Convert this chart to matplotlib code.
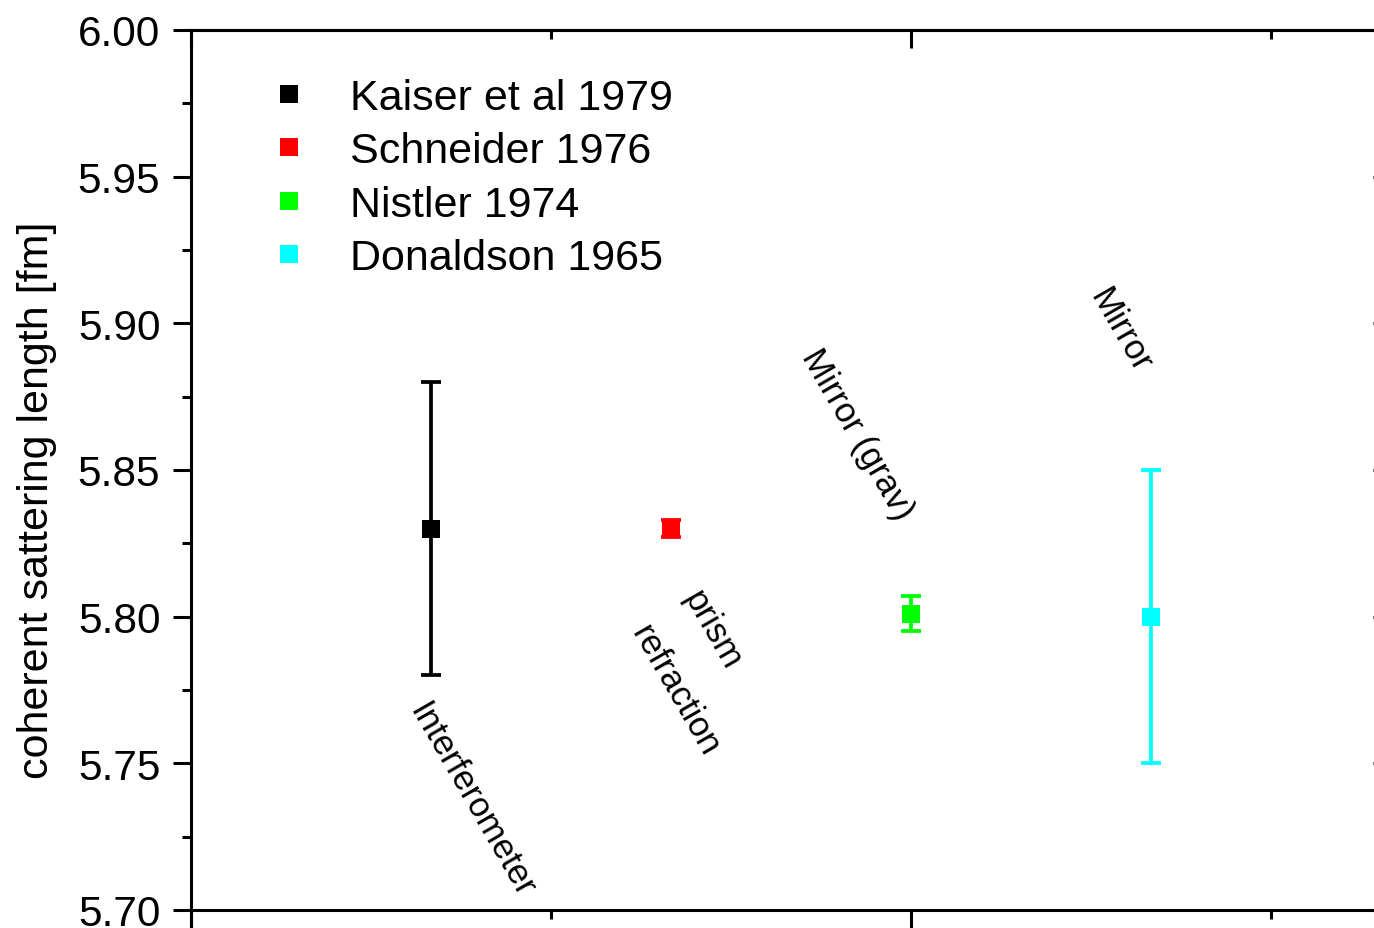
import matplotlib
matplotlib.use("Agg")
import matplotlib.pyplot as plt
from matplotlib.ticker import MultipleLocator, FormatStrFormatter
from matplotlib.lines import Line2D

plt.rcParams['font.family'] = ['Liberation Sans', 'DejaVu Sans']

# Measurements of the coherent scattering length
labels = ["Kaiser et al 1979", "Schneider 1976", "Nistler 1974", "Donaldson 1965"]
positions = [1, 2, 3, 4]
values = [5.830, 5.830, 5.801, 5.800]
errors = [0.050, 0.003, 0.006, 0.050]
colors = ["#000000", "#ff0000", "#00ff00", "#00ffff"]

# Method annotations: (text, x, y)
methods = [
    ("Interferometer", 1.171, 5.7375),
    ("prism", 2.171, 5.7955),
    ("refraction", 2.017, 5.775),
    ("Mirror (grav)", 2.775, 5.8625),
    ("Mirror", 3.872, 5.8977),
]

W, H = 1374, 929
fig = plt.figure(figsize=(W / 100, H / 100), dpi=100)
ax = fig.add_axes([191 / W, 0, 1200 / W, 898 / H])

px_per_unit = 880 / 0.30
ymin = 5.70 - 18 / px_per_unit
ax.set_xlim(0, 5)
ax.set_ylim(ymin, 6.00)

lw = 2.2
elw = 2.7
for x, v, e, c in zip(positions, values, errors, colors):
    ax.errorbar(x, v, yerr=e, fmt='none', ecolor=c, elinewidth=elw,
                capsize=7.2, capthick=elw, zorder=2)
    ax.plot(x, v, 's', color=c, markersize=13, markeredgewidth=0, zorder=3)

for text, x, y in methods:
    ax.text(x, y, text, rotation=-60, rotation_mode='anchor',
            ha='center', va='center', fontsize=25)

# Spines
for s in ax.spines.values():
    s.set_linewidth(lw)
ax.spines['bottom'].set_position(('data', 5.70))

ax.yaxis.set_major_locator(MultipleLocator(0.05))
ax.yaxis.set_minor_locator(MultipleLocator(0.025))
ax.yaxis.set_major_formatter(FormatStrFormatter('%.2f'))
ax.xaxis.set_major_locator(MultipleLocator(3))
ax.xaxis.set_minor_locator(MultipleLocator(1.5))
ax.tick_params(axis='y', which='major', direction='out', length=13, width=lw,
               labelsize=30.5, pad=9, right=False)
ax.tick_params(axis='y', which='minor', direction='out', length=6.5, width=lw,
               right=False)
ax.tick_params(axis='x', which='major', direction='out', length=13, width=lw,
               labelbottom=False, top=False)
ax.tick_params(axis='x', which='minor', direction='out', length=6.5, width=lw,
               top=False)

# Right and top axes with inward ticks
axr = ax.secondary_yaxis('right')
axr.yaxis.set_major_locator(MultipleLocator(0.05))
axr.yaxis.set_minor_locator(MultipleLocator(0.025))
axr.tick_params(which='major', direction='in', length=13, width=lw, labelright=False)
axr.tick_params(which='minor', direction='in', length=6.5, width=lw)
axr.spines['right'].set_linewidth(lw)

axt = ax.secondary_xaxis('top')
axt.xaxis.set_major_locator(MultipleLocator(3))
axt.xaxis.set_minor_locator(MultipleLocator(1.5))
axt.tick_params(which='major', direction='in', length=13, width=lw, labeltop=False)
axt.tick_params(which='minor', direction='in', length=6.5, width=lw)
axt.spines['top'].set_linewidth(lw)

ax.set_ylabel("coherent sattering length [fm]", fontsize=31, va='center')
ax.yaxis.set_label_coords(-0.1283, (H - 500) / 898)

handles = [Line2D([], [], marker='s', linestyle='none', color=c,
                  markersize=13, markeredgewidth=0) for c in colors]
leg = ax.legend(handles, labels, loc='upper left', fontsize=31, frameon=False,
                bbox_to_anchor=((267 - 191) / 1200, (H - 79) / 898),
                handlelength=1.0, handletextpad=0.93, labelspacing=0.31,
                borderpad=0, borderaxespad=0)

fig.savefig("out.png", dpi=100)
